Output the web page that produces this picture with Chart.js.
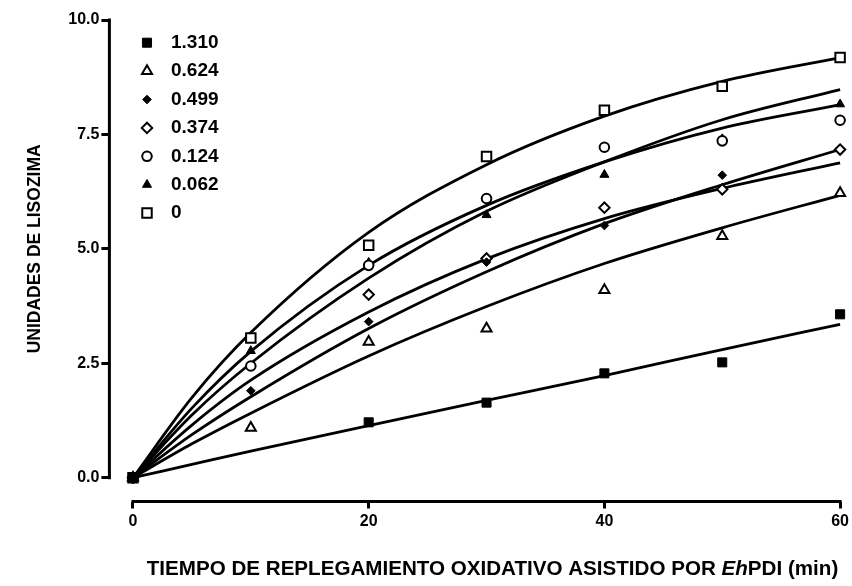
<!DOCTYPE html>
<html>
<head>
<meta charset="utf-8">
<title>Unidades de lisozima</title>
<script src="https://cdn.jsdelivr.net/npm/chart.js@4.4.1/dist/chart.umd.min.js"></script>
<style>
  html, body { margin: 0; padding: 0; background: #fff; }
  #wrap { position: relative; width: 852px; height: 586px; }
</style>
</head>
<body>
<div id="wrap"><canvas id="lisozima"></canvas></div>
<script>
// tiempo de replegamiento (min)
const tiempos = [0, 10, 20, 30, 40, 50, 60];
const tiemposAjuste = [0, 5, 10, 20, 30, 40, 50, 60];
const concentraciones = ['1.310', '0.624', '0.499', '0.374', '0.124', '0.062', '0'];

// puntos medidos (null = no se ve en la figura)
const pts1310 = [0, null, 1.21, 1.64, 2.28, 2.52, 3.57];
const pts0624 = [0, 1.09, 2.97, 3.26, 4.10, 5.28, 6.22];
const pts0499 = [0, 1.90, 3.41, 4.71, 5.51, 6.61, null];
const pts0374 = [0, null, 4.00, 4.79, 5.90, 6.30, 7.17];
const pts0124 = [0, 2.44, 4.64, 6.10, 7.22, 7.36, 7.81];
const pts0062 = [0, 2.77, 4.70, 5.74, 6.62, 7.40, 8.16];
const pts0000 = [0, 3.05, 5.08, 7.02, 8.03, 8.55, 9.18];

const fit1310 = [0, 0.29, 0.58, 1.14, 1.69, 2.23, 2.80, 3.35];
const fit0624 = [0, 0.74, 1.41, 2.66, 3.74, 4.68, 5.46, 6.17];
const fit0499 = [0, 0.94, 1.77, 3.26, 4.50, 5.55, 6.40, 7.17];
const fit0374 = [0, 1.15, 2.13, 3.62, 4.78, 5.66, 6.32, 6.88];
const fit0124 = [0, 1.37, 2.50, 4.36, 5.82, 6.90, 7.82, 8.48];
const fit0062 = [0, 1.52, 2.76, 4.64, 5.95, 6.90, 7.64, 8.15];
const fit0000 = [0, 1.75, 3.17, 5.36, 6.84, 7.90, 8.66, 9.18];

const xTicks = [0, 20, 40, 60];
const yTicks = [0, 2.5, 5, 7.5, 10];

const puntos = [pts1310, pts0624, pts0499, pts0374, pts0124, pts0062, pts0000];
const curvas = [fit1310, fit0624, fit0499, fit0374, fit0124, fit0062, fit0000];

// simbolo de cada serie
const simbolos = [
  {pointStyle: 'rect',     radius: 6.4, fill: '#000', border: 1},
  {pointStyle: 'triangle', radius: 5.8, fill: '#fff', border: 2},
  {pointStyle: 'rectRot',  radius: 4.3, fill: '#000', border: 1},
  {pointStyle: 'rectRot',  radius: 5.2, fill: '#fff', border: 2},
  {pointStyle: 'circle',   radius: 4.8, fill: '#fff', border: 2},
  {pointStyle: 'triangle', radius: 5.2, fill: '#000', border: 1},
  {pointStyle: 'rect',     radius: 6.7, fill: '#fff', border: 2}
];

const FONT = '"Liberation Sans", Arial, Helvetica, sans-serif';
const xy = (xs, arr) => arr.map((v, i) => ({x: xs[i], y: v}));

const datasets = [];
puntos.forEach((p, i) => {
  const s = simbolos[i];
  datasets.push({
    label: concentraciones[i],
    data: xy(tiempos, p),
    showLine: false,
    pointStyle: s.pointStyle,
    pointRadius: s.radius,
    pointBackgroundColor: s.fill,
    pointBorderColor: '#000',
    pointBorderWidth: s.border,
    clip: false,
    order: 0
  });
});
curvas.forEach((c, i) => {
  datasets.push({
    label: 'ajuste ' + concentraciones[i],
    data: xy(tiemposAjuste, c),
    showLine: true,
    pointRadius: 0,
    borderColor: '#000',
    borderWidth: 2.8,
    cubicInterpolationMode: 'monotone',
    fill: false,
    clip: false,
    order: 1
  });
});

// ejes separados (estilo Prism), titulos y leyenda
const ejes = {
  id: 'ejes',
  beforeDatasetsDraw(chart) {
    const {ctx, chartArea, scales: {x, y}} = chart;
    ctx.save();
    ctx.strokeStyle = '#000';
    ctx.lineWidth = 3;
    ctx.beginPath();
    ctx.moveTo(chartArea.left, y.getPixelForValue(yTicks[0]) + 1.5);
    ctx.lineTo(chartArea.left, y.getPixelForValue(yTicks[yTicks.length - 1]) - 1.5);
    ctx.moveTo(x.getPixelForValue(xTicks[0]) - 1.5, chartArea.bottom);
    ctx.lineTo(x.getPixelForValue(xTicks[xTicks.length - 1]) + 1.5, chartArea.bottom);
    ctx.stroke();

    ctx.fillStyle = '#000';
    ctx.textBaseline = 'middle';

    // titulo eje y
    const yc = (y.getPixelForValue(yTicks[0]) + y.getPixelForValue(yTicks[yTicks.length - 1])) / 2;
    ctx.save();
    ctx.translate(35, yc);
    ctx.rotate(-Math.PI / 2);
    ctx.textAlign = 'center';
    ctx.font = 'bold 17.5px ' + FONT;
    ctx.fillText('UNIDADES DE LISOZIMA', 0, 0);
    ctx.restore();

    // titulo eje x, con "Eh" en cursiva
    const partes = [
      ['TIEMPO DE REPLEGAMIENTO OXIDATIVO ASISTIDO POR ', 'bold'],
      ['Eh', 'italic bold'],
      ['PDI (min)', 'bold']
    ];
    const size = 20.6;
    let total = 0;
    partes.forEach(p => { ctx.font = p[1] + ' ' + size + 'px ' + FONT; total += ctx.measureText(p[0]).width; });
    let tx = 492.5 - total / 2;
    ctx.textAlign = 'left';
    partes.forEach(p => {
      ctx.font = p[1] + ' ' + size + 'px ' + FONT;
      ctx.fillText(p[0], tx, 569);
      tx += ctx.measureText(p[0]).width;
    });
    ctx.restore();
  },
  afterDatasetsDraw(chart) {
    const ctx = chart.ctx;
    ctx.save();
    ctx.textBaseline = 'middle';
    ctx.textAlign = 'left';
    concentraciones.forEach((c, i) => {
      const s = simbolos[i];
      const cy = 42.7 + i * 28.4;
      ctx.fillStyle = s.fill;
      ctx.strokeStyle = '#000';
      ctx.lineWidth = s.border;
      Chart.helpers.drawPoint(ctx, {pointStyle: s.pointStyle, radius: s.radius, borderWidth: s.border, rotation: 0}, 147, cy);
      ctx.fillStyle = '#000';
      ctx.font = 'bold 19px ' + FONT;
      ctx.fillText(c, 171, cy);
    });
    ctx.restore();
  }
};

new Chart(document.getElementById('lisozima'), {
  type: 'line',
  data: {datasets},
  options: {
    responsive: true,
    maintainAspectRatio: false,
    animation: false,
    events: [],
    layout: {padding: {left: 0, right: 11, top: 20, bottom: 0}},
    plugins: {
      legend: {display: false},
      tooltip: {enabled: false}
    },
    scales: {
      x: {
        type: 'linear',
        min: -2,
        max: 60,
        afterBuildTicks: s => { s.ticks = xTicks.map(v => ({value: v})); },
        afterFit: s => { s.height = 84.5; },
        ticks: {
          color: '#000',
          font: {family: FONT, size: 16, weight: 'bold'},
          padding: 3,
          maxRotation: 0,
          autoSkip: false,
          callback: v => String(v)
        },
        grid: {drawOnChartArea: false, drawTicks: true, tickLength: 7, tickWidth: 3, tickColor: '#000'},
        border: {display: false}
      },
      y: {
        type: 'linear',
        min: -0.52,
        max: 10,
        afterBuildTicks: s => { s.ticks = yTicks.map(v => ({value: v})); },
        afterFit: s => { s.width = 109.4; },
        ticks: {
          color: '#000',
          font: {family: FONT, size: 16, weight: 'bold'},
          padding: 2,
          autoSkip: false,
          callback: v => v.toFixed(1)
        },
        grid: {drawOnChartArea: false, drawTicks: true, tickLength: 8, tickWidth: 3, tickColor: '#000'},
        border: {display: false}
      }
    }
  },
  plugins: [ejes]
});
</script>
</body>
</html>
